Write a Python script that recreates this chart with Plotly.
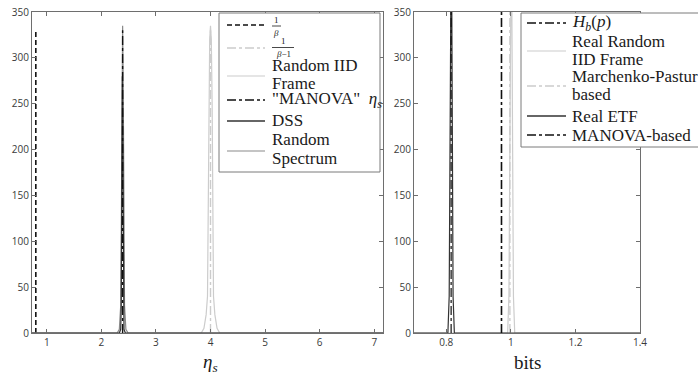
import plotly.graph_objects as go

W, H = 698, 376

# ---------------- data ----------------
# left panel (eta_s)
beta_inv = 0.8            # 1/beta
beta_m1_inv = 4.0         # 1/(beta-1)
manova_eta = 2.39         # "MANOVA" eta_s
ref_line_top = 330

dss_x = [0.73, 2.33, 2.355, 2.365, 2.372, 2.378, 2.385, 2.392, 2.398, 2.405, 2.415, 2.44, 7.16]
dss_y = [0, 0, 4, 30, 120, 230, 280, 230, 120, 30, 4, 0, 0]

rs_x = [0.73, 2.29, 2.33, 2.355, 2.37, 2.38, 2.39, 2.40, 2.41, 2.425, 2.45, 2.49, 7.16]
rs_y = [0, 0, 4, 30, 150, 280, 335, 280, 150, 30, 4, 0, 0]

iid_x = [0.73, 3.83, 3.88, 3.92, 3.945, 3.96, 3.97, 3.985, 4.0, 4.015, 4.03, 4.04, 4.055, 4.08, 4.12, 4.17, 7.16]
iid_y = [0, 0, 5, 20, 40, 150, 250, 320, 335, 320, 250, 150, 40, 20, 5, 0, 0]

# right panel (bits)
hb_p = 0.971              # H_b(p)
mp_based = 0.997          # Marchenko-Pastur based
manova_based = 0.815      # MANOVA-based
right_line_top = 400

etf_x = [0.70, 0.805, 0.809, 0.811, 0.813, 0.815, 0.817, 0.819, 0.821, 0.825, 1.40]
etf_y = [0, 0, 40, 180, 360, 420, 360, 180, 40, 0, 0]

riid_x = [0.70, 0.99, 0.994, 0.997, 0.999, 1.001, 1.003, 1.005, 1.008, 1.012, 1.40]
riid_y = [0, 0, 40, 180, 360, 420, 360, 180, 40, 0, 0]

left_xticks = [1, 2, 3, 4, 5, 6, 7]
right_xticks = [0.8, 1.0, 1.2, 1.4]
right_xticklabels = ["0.8", "1", "1.2", "1.4"]
y_ticks = [0, 50, 100, 150, 200, 250, 300, 350]

# ---------------- style ----------------
BLACK = "#111111"
DARK = "#333333"
GRAY = "#8a8a8a"
LIGHT = "#cccccc"
SERIF = "Liberation Serif, DejaVu Serif, serif"

fig = go.Figure()

# left traces
fig.add_trace(go.Scatter(x=[beta_inv, beta_inv], y=[0, ref_line_top], mode="lines",
                         line=dict(color=BLACK, width=1.6, dash="5px,3px"), name="1/β",
                         xaxis="x", yaxis="y"))
fig.add_trace(go.Scatter(x=iid_x, y=iid_y, mode="lines",
                         line=dict(color=LIGHT, width=1.2), name="Random IID Frame",
                         xaxis="x", yaxis="y"))
fig.add_trace(go.Scatter(x=[beta_m1_inv, beta_m1_inv], y=[0, ref_line_top], mode="lines",
                         line=dict(color=LIGHT, width=1.4, dash="dashdot"), name="1/(β-1)",
                         xaxis="x", yaxis="y"))
fig.add_trace(go.Scatter(x=rs_x, y=rs_y, mode="lines",
                         line=dict(color=GRAY, width=1.2), name="Random Spectrum",
                         xaxis="x", yaxis="y"))
fig.add_trace(go.Scatter(x=dss_x, y=dss_y, mode="lines",
                         line=dict(color=DARK, width=1.2), name="DSS",
                         xaxis="x", yaxis="y"))
fig.add_trace(go.Scatter(x=[manova_eta, manova_eta], y=[0, ref_line_top], mode="lines",
                         line=dict(color=BLACK, width=1.4, dash="dashdot"), name='"MANOVA" η_s',
                         xaxis="x", yaxis="y"))

# right traces
fig.add_trace(go.Scatter(x=riid_x, y=riid_y, mode="lines",
                         line=dict(color=LIGHT, width=1.2), name="Real Random IID Frame",
                         xaxis="x2", yaxis="y2"))
fig.add_trace(go.Scatter(x=[mp_based, mp_based], y=[0, right_line_top], mode="lines",
                         line=dict(color=LIGHT, width=1.4, dash="dashdot"), name="Marchenko-Pastur based",
                         xaxis="x2", yaxis="y2"))
fig.add_trace(go.Scatter(x=etf_x, y=etf_y, mode="lines",
                         line=dict(color=DARK, width=1.2), name="Real ETF",
                         xaxis="x2", yaxis="y2"))
fig.add_trace(go.Scatter(x=[manova_based, manova_based], y=[0, right_line_top], mode="lines",
                         line=dict(color=BLACK, width=1.2, dash="dashdot"), name="MANOVA-based",
                         xaxis="x2", yaxis="y2"))
fig.add_trace(go.Scatter(x=[hb_p, hb_p], y=[0, right_line_top], mode="lines",
                         line=dict(color=BLACK, width=1.6, dash="dashdot"), name="H_b(p)",
                         xaxis="x2", yaxis="y2"))


def px(x):
    return x / W


def py(y):
    return 1 - y / H


axis_common = dict(showgrid=False, zeroline=False, showline=True, linecolor="#6e6e6e",
                   linewidth=1, mirror="ticks", ticks="inside", ticklen=4,
                   tickcolor="#6e6e6e",
                   tickfont=dict(family="Open Sans", size=10, color="#3a3a3a"))

fig.update_layout(
    width=W, height=H,
    margin=dict(l=0, r=0, t=0, b=0, autoexpand=False),
    paper_bgcolor="white", plot_bgcolor="white",
    showlegend=False,
    xaxis=dict(domain=[px(32), px(383)], range=[0.73, 7.16], tickvals=left_xticks,
               anchor="y", **axis_common),
    yaxis=dict(domain=[py(333), py(12)], range=[0, 350], tickvals=y_ticks, anchor="x",
               **axis_common),
    xaxis2=dict(domain=[px(414), px(640)], range=[0.70, 1.40], tickvals=right_xticks,
                ticktext=right_xticklabels, anchor="y2", **axis_common),
    yaxis2=dict(domain=[py(333), py(12)], range=[0, 350], tickvals=y_ticks, anchor="x2",
                **axis_common),
)

shapes = []
annotations = []
LEG_FONT = dict(family=SERIF, size=17, color="#1a1a1a")


def leg_box(x0, y0, x1, y1):
    shapes.append(dict(type="rect", xref="paper", yref="paper", x0=px(x0), x1=px(x1),
                       y0=py(y1), y1=py(y0), line=dict(color="#7a7a7a", width=1),
                       fillcolor="white", layer="above"))


def leg_line(x0, x1, y, color, dash, width=1.3):
    shapes.append(dict(type="line", xref="paper", yref="paper", x0=px(x0), x1=px(x1),
                       y0=py(y), y1=py(y), line=dict(color=color, width=width, dash=dash),
                       layer="above"))


def leg_text(x, y, text, size=17, xanchor="left"):
    f = dict(LEG_FONT)
    f["size"] = size
    annotations.append(dict(xref="paper", yref="paper", x=px(x), y=py(y), text=text,
                            showarrow=False, xanchor=xanchor, yanchor="middle", align="left",
                            font=f, borderpad=0))


# axis titles
leg_text(210, 363, "<i>η</i><sub><i>s</i></sub>", 19, "center")
leg_text(527, 362, "bits", 19, "center")

# left legend
leg_box(219, 13, 380, 172)
leg_line(227, 265, 25, BLACK, "5px,3px", 1.6)
leg_text(276, 19.5, "1", 9, "center")
leg_line(272, 281, 26, "#1a1a1a", "solid", 0.8)
leg_text(276, 32.5, "<i>β</i>", 9, "center")
leg_line(227, 265, 48, LIGHT, "dashdot", 1.4)
leg_text(283, 41.5, "1", 9, "center")
leg_line(272, 294, 47.5, "#1a1a1a", "solid", 0.8)
leg_text(283, 54, "<i>β</i>−1", 9, "center")
leg_text(271, 66, "Random IID")
leg_line(227, 265, 76, LIGHT, "solid", 1.2)
leg_text(271, 84, "Frame")
leg_line(227, 265, 100, BLACK, "dashdot", 1.4)
leg_text(271, 100, "\"MANOVA\"  <i>η<sub>s</sub></i>")
leg_line(227, 265, 121, DARK, "solid", 1.3)
leg_text(271, 121, "DSS")
leg_text(271, 139, "Random")
leg_line(227, 265, 151, GRAY, "solid", 1.2)
leg_text(271, 158, "Spectrum")

# right legend
leg_box(521, 13, 705, 147)
leg_line(527, 566, 23, BLACK, "dashdot", 1.4)
leg_text(571, 23, "<i>H<sub>b</sub></i>(<i>p</i>)")
leg_text(571, 41, "Real Random")
leg_line(527, 566, 51, LIGHT, "solid", 1.2)
leg_text(571, 60, "IID Frame")
leg_text(571, 77, "Marchenko-Pastur")
leg_line(527, 566, 86, LIGHT, "dashdot", 1.4)
leg_text(571, 95, "based")
leg_line(527, 566, 116, DARK, "solid", 1.3)
leg_text(571, 116, "Real ETF")
leg_line(527, 566, 135, BLACK, "dashdot", 1.4)
leg_text(571, 135, "MANOVA-based")

fig.update_layout(shapes=shapes, annotations=annotations)

fig.write_html("out.html", config={"displayModeBar": False},
               post_script="document.body.style.margin='0';")
